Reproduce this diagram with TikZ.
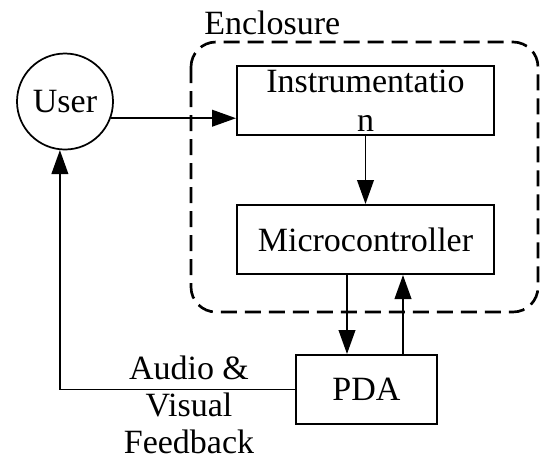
\documentclass[tikz,border=0pt]{standalone}
\usepackage{fontspec}
\setmainfont{Liberation Serif}
\usetikzlibrary{arrows.meta}
\begin{document}
\begin{tikzpicture}[x=0.75pt,y=-0.75pt,
  every node/.style={font=\fontsize{25.5}{29}\selectfont, inner sep=0pt},
  block/.style={draw, line width=1.5pt, minimum height=51.75pt, align=center},
  link/.style={line width=1.4pt, -{Triangle[length=18pt,width=12.5pt]}},
  encl/.style={draw, line width=2pt, dash pattern=on 12pt off 6pt, rounded corners=18.75pt}]
\useasboundingbox (0,0) rectangle (540,462);

% enclosure outline and its caption
\draw[encl] (191,42) rectangle (538,312);
\node[anchor=west] (enc) at (204,23) {Enclosure};

% blocks
\node[draw, circle, line width=1.3pt, minimum size=72pt] (user) at (65,101.5) {User};
\node[block, minimum width=192.75pt] (instr) at (365.5,100.5) {Instrumentatio\\n};
\node[block, minimum width=192.75pt] (micro) at (365.5,239.5) {Microcontroller};
\node[block, minimum width=105.75pt] (pda) at (366.5,389.5) {PDA};

% feedback caption
\node[align=center, font=\fontsize{25.5}{28}\selectfont] (fbl) at (189,405) {Audio \&\\Visual\\Feedback};

% connectors
\coordinate (dn) at (347,0);
\coordinate (up) at (403,0);
\draw[link] (user.-20) -- (user.-20 -| instr.west);
\draw[link] (instr.south) -- (micro.north);
\draw[link] (micro.south -| dn) -- (pda.north -| dn);
\draw[link] (pda.north -| up) -- (micro.south -| up);
\draw[link] (pda.west) -| (user.-96);
\end{tikzpicture}
\end{document}
